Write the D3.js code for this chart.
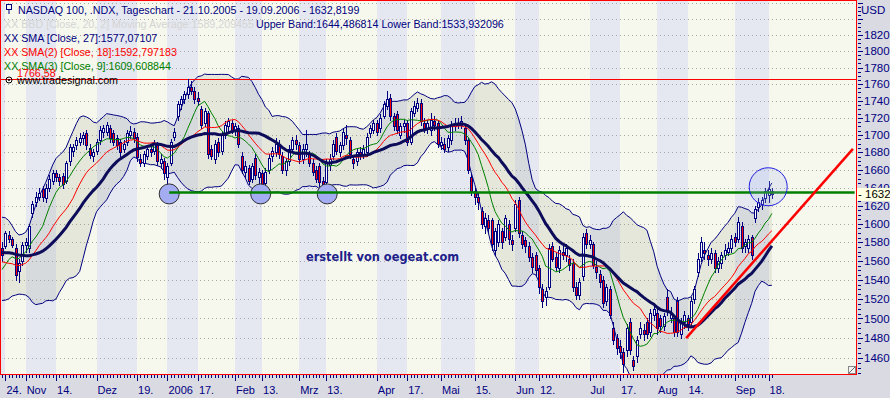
<!DOCTYPE html>
<html>
<head>
<meta charset="utf-8">
<script src="https://d3js.org/d3.v7.min.js"></script>
<style>
body { margin: 0; background: #dadae2; }
svg { display: block; }
</style>
</head>
<body>
<script>
// closes before 21.10.2005, only used to warm up the indicators
var priorCloses = [1592,1595,1590,1586,1580,1578,1585,1592,1594,
    1600,1605,1598,1585,1572,1565,1560,1552,1538,
    1530,1545,1535,1550,1562,1558,1540,1555,1548];

// daily NASDAQ 100, 21.10.2005 - 19.09.2006
var opens = [
    1574,1576,1588,1583,1574,1549,1560,1577,1574,1612,
    1624,1630,1638,1628,1640,1648,1656,1652,1653,1648,
    1670,1682,1688,1692,1696,1702,1685,1676,1682,1694,
    1704,1704,1708,1702,1696,1692,1684,1692,1700,1704,
    1698,1672,1668,1676,1684,1682,1688,1668,1670,1652,
    1668,1698,1722,1736,1742,1748,1756,1752,1744,1730,
    1714,1726,1684,1672,1692,1682,1700,1710,1714,1706,
    1708,1676,1658,1662,1650,1674,1652,1656,1645,1660,
    1676,1680,1690,1676,1660,1670,1684,1694,1688,1672,
    1684,1678,1668,1660,1664,1648,1646,1666,1676,1698,
    1680,1688,1700,1694,1672,1670,1680,1678,1680,1702,
    1706,1714,1708,1722,1734,1744,1722,1724,1700,1710,
    1714,1692,1726,1732,1738,1714,1708,1706,1716,1714,
    1688,1690,1686,1694,1710,1714,1712,1708,1694,1652,
    1636,1630,1614,1598,1604,1604,1572,1580,1592,1586,
    1600,1582,1596,1626,1588,1582,1576,1564,1566,1552,
    1530,1522,1532,1576,1564,1552,1570,1566,1562,1558,
    1532,1524,1544,1590,1578,1578,1554,1546,1540,1518,
    1530,1490,1480,1472,1466,1468,1496,1458,1462,1484,
    1488,1496,1486,1504,1506,1500,1492,1522,1500,1500,
    1518,1484,1496,1500,1496,1520,1548,1564,1572,1566,
    1562,1568,1552,1558,1566,1570,1574,1586,1584,1598,
    1576,1574,1586,1606,1618,1622,1628,1632,1636];
var highs = [
    1580,1592,1592,1586,1578,1562,1580,1585,1600,1625,
    1635,1640,1642,1644,1654,1660,1660,1655,1656,1670,
    1690,1690,1698,1702,1704,1706,1690,1684,1695,1710,
    1712,1715,1712,1706,1700,1695,1694,1706,1710,1708,
    1702,1678,1682,1688,1690,1694,1692,1678,1674,1668,
    1695,1708,1740,1746,1752,1766.58,1764,1756,1750,1734,
    1732,1728,1688,1694,1696,1704,1716,1720,1718,1714,
    1712,1680,1670,1666,1668,1678,1662,1660,1662,1678,
    1686,1696,1694,1680,1674,1688,1698,1700,1692,1690,
    1706,1682,1672,1664,1668,1652,1672,1678,1694,1702,
    1692,1708,1712,1698,1676,1684,1686,1688,1702,1712,
    1718,1718,1724,1740,1752,1748,1726,1728,1714,1718,
    1718,1732,1740,1744,1742,1720,1718,1726,1722,1718,
    1698,1696,1700,1716,1720,1720,1722,1712,1696,1656,
    1640,1634,1618,1612,1610,1606,1596,1604,1596,1610,
    1604,1588,1626,1630,1592,1586,1580,1568,1570,1556,
    1536,1532,1578,1580,1568,1576,1578,1578,1566,1562,
    1538,1542,1590,1594,1588,1580,1560,1550,1544,1536,
    1534,1496,1484,1478,1470,1494,1500,1462,1482,1496,
    1494,1500,1510,1516,1510,1504,1506,1530,1512,1504,
    1522,1500,1508,1504,1522,1534,1568,1586,1580,1572,
    1574,1572,1564,1570,1578,1580,1588,1590,1608,1602,
    1584,1588,1588,1620,1628,1630,1640,1648,1640];
var lows = [
    1560,1574,1580,1575,1540,1538,1556,1570,1570,1608,
    1620,1626,1625,1624,1636,1644,1648,1643,1640,1645,
    1666,1676,1684,1688,1690,1684,1674,1670,1678,1690,
    1698,1700,1692,1688,1684,1676,1680,1688,1696,1692,
    1670,1664,1664,1672,1676,1678,1666,1662,1650,1636,
    1665,1694,1718,1730,1738,1744,1748,1738,1735,1708,
    1710,1674,1672,1668,1676,1678,1696,1704,1702,1700,
    1686,1656,1652,1644,1646,1650,1640,1638,1640,1656,
    1670,1676,1674,1656,1654,1666,1680,1684,1668,1668,
    1676,1664,1654,1646,1642,1638,1636,1660,1672,1678,
    1676,1684,1690,1674,1662,1666,1672,1674,1676,1698,
    1702,1700,1704,1720,1730,1718,1706,1702,1696,1704,
    1688,1690,1722,1728,1712,1704,1702,1700,1706,1686,
    1684,1680,1682,1690,1706,1708,1708,1690,1656,1632,
    1622,1616,1596,1590,1590,1572,1566,1576,1574,1582,
    1578,1572,1592,1586,1574,1570,1560,1548,1545,1526,
    1512,1514,1530,1560,1550,1548,1562,1560,1550,1528,
    1520,1520,1540,1574,1574,1552,1542,1532,1512,1514,
    1500,1474,1464,1460,1446,1462,1464,1448,1456,1480,
    1478,1480,1482,1498,1484,1486,1488,1504,1496,1482,
    1482,1480,1490,1488,1492,1516,1544,1560,1562,1556,
    1558,1548,1548,1552,1562,1566,1570,1576,1580,1570,
    1570,1570,1562,1602,1614,1616,1624,1624,1628];
var closes = [
    1566,1590,1584,1577,1545,1558,1577,1580,1598,1622,
    1630,1634,1630,1640,1650,1656,1652,1648,1644,1668,
    1686,1686,1694,1697,1700,1688,1677,1680,1692,1706,
    1708,1712,1696,1692,1688,1680,1690,1702,1705,1696,
    1675,1668,1678,1684,1680,1690,1670,1672,1656,1664,
    1692,1703,1736,1742,1748,1756,1752,1742,1740,1712,
    1728,1678,1676,1690,1680,1700,1712,1716,1706,1710,
    1690,1660,1664,1648,1664,1654,1658,1643,1658,1674,
    1682,1690,1678,1660,1670,1684,1694,1690,1672,1684,
    1690,1668,1658,1650,1646,1644,1668,1672,1690,1682,
    1688,1704,1696,1678,1668,1680,1678,1684,1698,1708,
    1714,1704,1720,1736,1742,1722,1710,1706,1710,1714,
    1692,1728,1734,1738,1716,1708,1714,1718,1712,1690,
    1692,1684,1696,1712,1714,1712,1716,1694,1660,1636,
    1630,1624,1600,1606,1596,1578,1592,1600,1580,1606,
    1584,1578,1622,1590,1578,1576,1564,1554,1550,1532,
    1518,1528,1574,1562,1554,1572,1566,1574,1556,1532,
    1524,1538,1586,1578,1582,1556,1548,1538,1516,1532,
    1504,1478,1470,1466,1454,1490,1468,1452,1478,1490,
    1484,1484,1506,1510,1490,1492,1502,1508,1506,1486,
    1486,1496,1504,1494,1518,1530,1562,1580,1568,1562,
    1568,1552,1560,1566,1572,1574,1584,1580,1602,1574,
    1580,1584,1566,1616,1624,1626,1636,1638,1632.82];

// x axis: bar index of each label
var tickIndex = [1, 7, 16, 28, 40, 49, 58, 69, 77, 88, 96, 111, 120, 130, 140, 152, 159, 174, 183, 194, 203, 217, 227];
var tickLabels = ["24.", "Nov", "14.", "Dez", "19.", "2006", "17.", "Feb", "13.", "Mrz", "13.", "Apr", "17.", "Mai", "15.", "Jun", "12.", "Jul", "17.", "Aug", "14.", "Sep", "18."];
// shaded part of each month: month start -> mid month label
var monthStripes = [[-0.6, 1], [7, 16], [28, 40], [49, 58], [69, 77], [88, 96], [111, 120], [130, 140], [152, 159], [174, 183], [194, 203], [217, 227]];

// drawings on the chart
var highMark = 1766.58;
var lastClose = 1632.8199;
var supportLevel = 1634.5;
var supportFrom = 49.5;
var supportTo = 252.5;
var lowCircles = [[49.5, 1633], [76.6, 1633], [96.3, 1633]];
var trendLine = [[202.6, 1480], [252, 1684]];
var focusCircle = [226.9, 1641];

function init() {
    var w = 890;
    var h = 398;
    var plotW = 856;
    var plotH = 374;
    var navy = "#000080";

    var svg = d3.select("body")
                .append("svg")
                .attr("width", w)
                .attr("height", h)
                .style("font-family", "'Liberation Sans', Arial, sans-serif");

    svg.append("rect")
        .attr("width", w)
        .attr("height", h)
        .attr("fill", "#dadae2");

    var xScale = d3.scaleLinear()
                    .domain([-0.6, 252.9])
                    .range([0, plotW]);

    var yScale = d3.scaleLog()
                    .domain([1444.2, 1864])
                    .range([plotH, 0]);

    svg.append("defs")
        .append("clipPath")
        .attr("id", "clip")
        .append("rect")
        .attr("width", plotW)
        .attr("height", plotH);

    var plot = svg.append("g").attr("clip-path", "url(#clip)");

    plot.append("rect")
        .attr("width", plotW)
        .attr("height", plotH)
        .attr("fill", "#f6f8ed");

    plot.selectAll("rect.stripe")
        .data(monthStripes)
        .enter()
        .append("rect")
        .attr("class", "stripe")
        .attr("x", function(d) { return Math.round(xScale(d[0])); })
        .attr("width", function(d) { return Math.round(xScale(d[1])) - Math.round(xScale(d[0])); })
        .attr("y", 0)
        .attr("height", plotH)
        .attr("fill", "#e5e8f0");

    // dotted grid
    plot.selectAll("line.grid")
        .data(d3.range(1460, 1861, 20))
        .enter()
        .append("line")
        .attr("x1", 0)
        .attr("x2", plotW)
        .attr("y1", function(d) { return Math.round(yScale(d)) + 0.5; })
        .attr("y2", function(d) { return Math.round(yScale(d)) + 0.5; })
        .attr("stroke", "#a8a8a8")
        .attr("stroke-dasharray", "1,3");

    // indicators
    var allCloses = priorCloses.concat(closes);
    var offset = priorCloses.length;
    function sma(n) {
        return closes.map(function(c, i) {
            return d3.mean(allCloses.slice(i + offset - n + 1, i + offset + 1));
        });
    }
    var sma27 = sma(27);
    var sma18 = sma(18);
    var sma9 = sma(9);
    var bbUpper = [];
    var bbLower = [];
    closes.forEach(function(c, i) {
        var win = allCloses.slice(i + offset - 19, i + offset + 1);
        var m = d3.mean(win);
        var sd = Math.sqrt(d3.mean(win, function(v) { return (v - m) * (v - m); }));
        bbUpper.push(m + 2 * sd);
        bbLower.push(m - 2 * sd);
    });

    var band = d3.area()
                .x(function(d, i) { return xScale(i); })
                .y0(function(d, i) { return yScale(bbLower[i]); })
                .y1(function(d, i) { return yScale(bbUpper[i]); });

    plot.append("path")
        .datum(closes)
        .attr("d", band)
        .attr("fill", "rgba(150,150,125,0.17)");

    var line = d3.line()
                .x(function(d, i) { return xScale(i); })
                .y(function(d) { return yScale(d); });

    [bbUpper, bbLower].forEach(function(arr) {
        plot.append("path")
            .datum(arr)
            .attr("d", line)
            .attr("fill", "none")
            .attr("stroke", navy)
            .attr("stroke-width", 1);
    });

    plot.append("line")
        .attr("x1", 0)
        .attr("x2", plotW)
        .attr("y1", Math.round(yScale(highMark)) + 0.5)
        .attr("y2", Math.round(yScale(highMark)) + 0.5)
        .attr("stroke", "#ff0000");

    // candles
    var candles = plot.selectAll("g.candle")
                    .data(closes)
                    .enter()
                    .append("g")
                    .attr("class", "candle");

    candles.append("line")
        .attr("x1", function(d, i) { return Math.round(xScale(i)) + 0.5; })
        .attr("x2", function(d, i) { return Math.round(xScale(i)) + 0.5; })
        .attr("y1", function(d, i) { return Math.round(yScale(highs[i])); })
        .attr("y2", function(d, i) { return Math.round(yScale(lows[i])) + 1; })
        .attr("stroke", navy);

    function bodyTop(i) { return Math.round(yScale(Math.max(opens[i], closes[i]))); }
    function bodyBottom(i) { return Math.max(Math.round(yScale(Math.min(opens[i], closes[i]))), bodyTop(i) + 1); }

    candles.append("rect")
        .attr("x", function(d, i) { return Math.round(xScale(i)) - 1; })
        .attr("width", 3)
        .attr("y", function(d, i) { return bodyTop(i); })
        .attr("height", function(d, i) { return bodyBottom(i) - bodyTop(i) + 1; })
        .attr("fill", navy);

    candles.append("rect")
        .attr("x", function(d, i) { return Math.round(xScale(i)); })
        .attr("width", 1)
        .attr("y", function(d, i) { return bodyTop(i) + 1; })
        .attr("height", function(d, i) { return Math.max(0, bodyBottom(i) - bodyTop(i) - 1); })
        .attr("fill", function(d, i) { return closes[i] >= opens[i] ? "#ffffff" : "#ff0000"; });

    // moving averages
    plot.append("path")
        .datum(sma9)
        .attr("d", line)
        .attr("fill", "none")
        .attr("stroke", "#008000")
        .attr("stroke-width", 1);

    plot.append("path")
        .datum(sma18)
        .attr("d", line)
        .attr("fill", "none")
        .attr("stroke", "#ff0000")
        .attr("stroke-width", 1);

    plot.append("path")
        .datum(sma27)
        .attr("d", line)
        .attr("fill", "none")
        .attr("stroke", "#0c0c5a")
        .attr("stroke-width", 3);

    // drawings
    plot.selectAll("circle.low")
        .data(lowCircles)
        .enter()
        .append("circle")
        .attr("cx", function(d) { return xScale(d[0]); })
        .attr("cy", function(d) { return yScale(d[1]); })
        .attr("r", 10)
        .attr("fill", "#a4acf2")
        .attr("stroke", "#303030");

    plot.append("line")
        .attr("x1", xScale(supportFrom))
        .attr("x2", xScale(supportTo))
        .attr("y1", yScale(supportLevel))
        .attr("y2", yScale(supportLevel))
        .attr("stroke", "#008000")
        .attr("stroke-width", 2.5);

    plot.append("line")
        .attr("x1", xScale(trendLine[0][0]))
        .attr("y1", yScale(trendLine[0][1]))
        .attr("x2", xScale(trendLine[1][0]))
        .attr("y2", yScale(trendLine[1][1]))
        .attr("stroke", "#ff0000")
        .attr("stroke-width", 2.5);

    plot.append("circle")
        .attr("cx", xScale(focusCircle[0]))
        .attr("cy", yScale(focusCircle[1]))
        .attr("r", 19)
        .attr("fill", "rgba(170,180,240,0.22)")
        .attr("stroke", "#2020e0");

    plot.append("text")
        .attr("x", 306)
        .attr("y", 261)
        .attr("font-family", "'DejaVu Sans', Verdana, sans-serif")
        .attr("font-weight", "bold")
        .attr("font-size", "11.4px")
        .attr("fill", "#20208a")
        .text("erstellt von oegeat.com");

    // legend
    var legend = svg.append("g").attr("font-size", "10.7px");
    legend.append("rect")
        .attr("x", 6.5).attr("y", 4.5).attr("width", 5).attr("height", 5)
        .attr("fill", "none").attr("stroke", navy);
    legend.append("line")
        .attr("x1", 9).attr("x2", 9).attr("y1", 10).attr("y2", 14)
        .attr("stroke", navy);
    legend.append("text").attr("x", 18).attr("y", 13.5).attr("fill", navy)
        .text("NASDAQ 100, .NDX, Tageschart - 21.10.2005 - 19.09.2006 - 1632,8199");
    legend.append("text").attr("x", 4).attr("y", 28).attr("fill", "#d4d4d4")
        .text("XX BBD [Close, 20, 2] Moving Average:1589,209455");
    legend.append("text").attr("x", 256).attr("y", 28).attr("fill", navy)
        .text("Upper Band:1644,486814 Lower Band:1533,932096");
    legend.append("text").attr("x", 4).attr("y", 41.5).attr("fill", navy)
        .text("XX SMA [Close, 27]:1577,07107");
    legend.append("text").attr("x", 4).attr("y", 55.5).attr("fill", "#ff0000")
        .text("XX SMA(2) [Close, 18]:1592,797183");
    legend.append("text").attr("x", 4).attr("y", 69.5).attr("fill", "#008000")
        .text("XX SMA(3) [Close, 9]:1609,608844");
    legend.append("text").attr("x", 17).attr("y", 76.5).attr("fill", "#ff0000")
        .text("1766,58");
    legend.append("circle").attr("cx", 9).attr("cy", 80).attr("r", 3)
        .attr("fill", "none").attr("stroke", "#000");
    legend.append("circle").attr("cx", 9).attr("cy", 80).attr("r", 1).attr("fill", "#000");
    legend.append("text").attr("x", 17).attr("y", 84).attr("fill", "#000")
        .text("www.tradesignal.com");

    // resize grip
    svg.append("rect").attr("x", 848.5).attr("y", 366.5).attr("width", 7).attr("height", 7)
        .attr("fill", "#f4f4f4").attr("stroke", "#888");
    svg.append("line").attr("x1", 849).attr("y1", 373).attr("x2", 855).attr("y2", 367)
        .attr("stroke", "#666");

    // frame
    svg.append("rect")
        .attr("x", 0.5)
        .attr("y", 0.5)
        .attr("width", plotW)
        .attr("height", plotH)
        .attr("fill", "none")
        .attr("stroke", "#ff0000");

    // right axis
    var axisR = svg.append("g");
    axisR.selectAll("line")
        .data(d3.range(1445, 1861, 5))
        .enter()
        .append("line")
        .attr("x1", 858)
        .attr("x2", function(d) { return d % 20 === 0 ? 863 : 861; })
        .attr("y1", function(d) { return Math.round(yScale(d)) + 0.5; })
        .attr("y2", function(d) { return Math.round(yScale(d)) + 0.5; })
        .attr("stroke", navy);

    axisR.selectAll("text")
        .data(d3.range(1460, 1821, 20))
        .enter()
        .append("text")
        .attr("x", 864)
        .attr("y", function(d) { return yScale(d); })
        .attr("dy", "0.36em")
        .attr("font-size", "11.5px")
        .attr("fill", navy)
        .text(function(d) { return d; });

    axisR.append("text")
        .attr("x", 861)
        .attr("y", 13.5)
        .attr("font-size", "11.5px")
        .attr("fill", navy)
        .text("USD");

    var yLast = Math.round(yScale(lastClose));
    axisR.append("rect")
        .attr("x", 857)
        .attr("y", yLast - 6)
        .attr("width", 33)
        .attr("height", 13)
        .attr("fill", "#ffffe1");
    axisR.append("text")
        .attr("x", 858)
        .attr("y", yLast)
        .attr("dy", "0.36em")
        .attr("font-size", "11.5px")
        .attr("fill", "#000")
        .text("- " + Math.floor(lastClose));

    // bottom axis
    var axisB = svg.append("g");
    axisB.selectAll("line.minor")
        .data(d3.range(closes.length))
        .enter()
        .append("line")
        .attr("x1", function(d) { return Math.round(xScale(d)) + 0.5; })
        .attr("x2", function(d) { return Math.round(xScale(d)) + 0.5; })
        .attr("y1", 375)
        .attr("y2", 378)
        .attr("stroke", navy);

    axisB.selectAll("line.major")
        .data(tickIndex)
        .enter()
        .append("line")
        .attr("x1", function(d) { return Math.round(xScale(d)) + 0.5; })
        .attr("x2", function(d) { return Math.round(xScale(d)) + 0.5; })
        .attr("y1", 375)
        .attr("y2", 381)
        .attr("stroke", navy);

    axisB.selectAll("text")
        .data(tickIndex)
        .enter()
        .append("text")
        .attr("x", function(d) { return xScale(d) + 1; })
        .attr("y", 394)
        .attr("font-size", "11px")
        .attr("fill", navy)
        .text(function(d, i) { return tickLabels[i]; });
}

window.onload = init;
</script>
</body>
</html>
